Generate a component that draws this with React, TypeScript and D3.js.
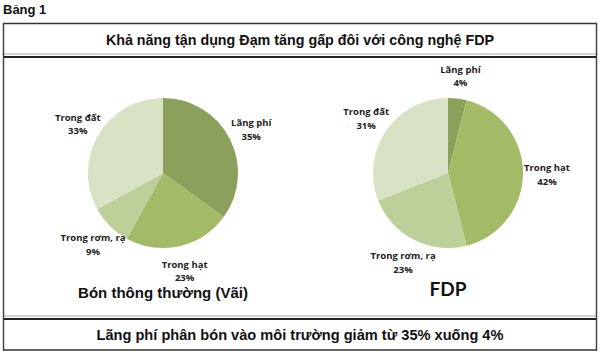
import React from "react";
import * as d3 from "d3";

const categories = ["Lãng phí", "Trong hạt", "Trong rơm, rạ", "Trong đất"];
const conventionalValues = [35, 23, 9, 33];
const fdpValues = [4, 42, 23, 31];
const sliceColors = ["#8ba05a", "#a3ba67", "#bdd09a", "#d7e3c4"];

const headerLabel = "Bảng 1";
const titleText = "Khả năng tận dụng Đạm tăng gấp đôi với công nghệ FDP";
const captionText = "Lãng phí phân bón vào môi trường giảm từ 35% xuống 4%";
const pieTitles = ["Bón thông thường (Vãi)", "FDP"];

const W = 600;
const H = 357;
const R = 75;
const LABEL_R = 99;

type PieProps = { values: number[]; cx: number; cy: number; title: string; titleStyle: any; titleY: number };

function Pie({ values, cx, cy, title, titleStyle, titleY }: PieProps) {
  const data = categories.map((c, i) => ({ name: c, value: values[i], color: sliceColors[i] }));
  const pie = d3.pie<any>().sort(null).value((d: any) => d.value);
  const arcs = pie(data);
  const arc = d3.arc<any>().innerRadius(0).outerRadius(R);
  const labelArc = d3.arc<any>().innerRadius(LABEL_R).outerRadius(LABEL_R);
  return (
    <g transform={`translate(${cx},${cy})`}>
      {arcs.map((a, i) => (
        <path key={i} d={arc(a) as string} fill={a.data.color} />
      ))}
      {arcs.map((a, i) => {
        const [x, y] = labelArc.centroid(a);
        return (
          <text
            key={"l" + i}
            x={x}
            y={y}
            textAnchor="middle"
            fontFamily="'Open Sans', sans-serif"
            fontWeight="bold"
            fontSize={9.5}
            fill="#222"
          >
            <tspan x={x} dy={-2}>{a.data.name}</tspan>
            <tspan x={x} dy={13.5}>{a.data.value}%</tspan>
          </text>
        );
      })}
      <text x={0} y={titleY} textAnchor="middle" dominantBaseline="central" {...titleStyle}>
        {title}
      </text>
    </g>
  );
}

export default function App() {
  return (
    <svg
      width={W}
      height={H}
      style={{ position: "absolute", left: 0, top: 0, background: "#fff" }}
    >
      <rect x={0} y={0} width={W} height={H} fill="#fff" />
      <text x={3} y={14} fontFamily="'Liberation Sans', Arial, sans-serif" fontWeight="bold" fontSize={13} fill="#111">
        {headerLabel}
      </text>
      {/* frame */}
      <line x1={3} x2={597} y1={23.5} y2={23.5} stroke="#333" strokeWidth={1.5} />
      <line x1={3} x2={597} y1={54} y2={54} stroke="#aaa" strokeWidth={1} />
      <line x1={3} x2={597} y1={57} y2={57} stroke="#222" strokeWidth={2} />
      <line x1={3} x2={597} y1={316} y2={316} stroke="#aaa" strokeWidth={1} />
      <line x1={3} x2={597} y1={319} y2={319} stroke="#222" strokeWidth={2} />
      <line x1={3} x2={597} y1={350} y2={350} stroke="#333" strokeWidth={1.5} />
      <line x1={3.5} x2={3.5} y1={23} y2={351} stroke="#444" strokeWidth={1.5} />
      <line x1={596.5} x2={596.5} y1={23} y2={351} stroke="#444" strokeWidth={1.5} />

      <text x={300} y={40} textAnchor="middle" dominantBaseline="central" fontFamily="'Liberation Sans', Arial, sans-serif" fontWeight="bold" fontSize={14.3} fill="#111">
        {titleText}
      </text>
      <text x={300} y={335} textAnchor="middle" dominantBaseline="central" fontFamily="'Liberation Sans', Arial, sans-serif" fontWeight="bold" fontSize={14.6} fill="#111">
        {captionText}
      </text>

      <Pie
        values={conventionalValues}
        cx={163}
        cy={173}
        title={pieTitles[0]}
        titleY={119}
        titleStyle={{ fontFamily: "'Liberation Sans', Arial, sans-serif", fontWeight: "bold", fontSize: 15, fill: "#111" }}
      />
      <Pie
        values={fdpValues}
        cx={448}
        cy={173}
        title={pieTitles[1]}
        titleY={115}
        titleStyle={{ fontFamily: "Lato, 'Open Sans', sans-serif", fontWeight: "bold", fontSize: 19, fill: "#111" }}
      />
    </svg>
  );
}
